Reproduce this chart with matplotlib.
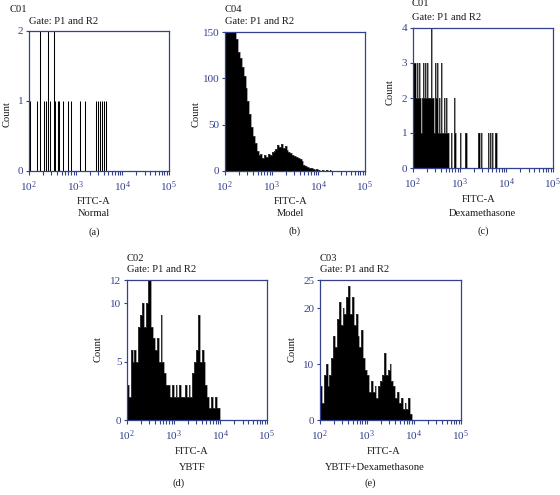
import numpy as np
import matplotlib
matplotlib.use('Agg')
import matplotlib.pyplot as plt
from matplotlib.ticker import LogLocator, LogFormatterMathtext, FixedLocator, NullFormatter

plt.rcParams['font.family'] = ['Liberation Serif', 'DejaVu Serif']
plt.rcParams['mathtext.fontset'] = 'stix'

# ---------------- data ----------------
# (a) Normal: sparse events, log10(FITC-A) and counts
a_log = [2.029, 2.171, 2.243, 2.329, 2.364, 2.414, 2.457, 2.529, 2.564, 2.614,
         2.65, 2.72, 2.843, 2.893, 3.086, 3.207, 3.429, 3.471, 3.514, 3.557, 3.6, 3.643]
a_cnt = [1, 1, 2, 1, 1, 2, 1, 2, 1, 1,
         1, 1, 1, 1, 1, 1, 1, 1, 1, 1, 1, 1]

# (b) Model: histogram, bins of 0.04 decade starting at 10^2
b_cnt = [158, 152, 160, 150, 155, 151, 142, 128, 122, 112,
         102, 90, 76, 62, 48, 38, 30, 22, 17, 18,
         14, 17, 15, 18, 17, 21, 22, 24, 28, 26,
         29, 25, 27, 23, 21, 19, 17, 16, 15, 14,
         13, 11, 7, 5, 4, 3, 3, 2, 1, 2,
         1, 0, 1, 0, 1, 0, 1]

# (c) Dexamethasone: fine bins of 0.0214 decade starting at 10^2
c_cnt = [3, 3, 3, 2, 3, 2, 3, 2, 1, 2,
         3, 2, 3, 2, 3, 2, 2, 2, 4, 2,
         2, 1, 3, 2, 3, 1, 2, 1, 3, 1,
         1, 2, 1, 2, 1, 1, 0, 0, 1, 0,
         0, 2, 1, 0, 0, 0, 0, 1, 0, 0,
         0, 0, 1, 1, 0, 0, 0, 0, 0, 0,
         0, 0, 0, 0, 0, 1, 1, 0, 1, 0,
         0, 0, 0, 0, 0, 1, 0, 1, 0, 1,
         0, 0, 1, 1]

# (d) YBTF
d_cnt = [3, 2, 6, 5, 6, 5, 8, 9, 10, 8,
         10, 12, 13, 8, 7, 6, 7, 5, 9, 5,
         4, 3, 3, 2, 3, 2, 3, 2, 3, 2,
         2, 3, 2, 3, 2, 4, 5, 6, 9, 5,
         6, 5, 3, 2, 1, 2, 1, 2, 1, 1]

# (e) YBTF+Dexamethasone
e_cnt = [6, 3, 8, 10, 6, 8, 11, 15, 13, 18,
         21, 17, 20, 19, 22, 24, 19, 22, 17, 19,
         15, 13, 16, 11, 9, 8, 5, 7, 5, 6,
         4, 6, 7, 8, 12, 8, 9, 10, 7, 6,
         4, 5, 3, 4, 2, 3, 2, 4, 1]

bin_coarse = 0.04
bin_fine = 0.0214

panels = [
    dict(code='C01', name='Normal', letter='(a)', yticks=[0, 1, 2], ymax=2),
    dict(code='C04', name='Model', letter='(b)', yticks=[0, 50, 100, 150], ymax=150),
    dict(code='C01', name='Dexamethasone', letter='(c)', yticks=[0, 1, 2, 3, 4], ymax=4),
    dict(code='C02', name='YBTF', letter='(d)', yticks=[0, 5, 10, 12], ymax=12),
    dict(code='C03', name='YBTF+Dexamethasone', letter='(e)', yticks=[0, 10, 20, 25], ymax=25),
]

# ---------------- layout (pixels) ----------------
W, H = 560, 495
BLUE = '#34418e'
TXT = '#1a1a1a'
FS = 7.6

rects = [(29, 31, 169, 171), (225, 32, 365, 171), (413, 28, 553, 168),
         (127, 280, 267, 420), (320, 280, 461, 420)]
hdr = [(10, 9, 29, 21), (225, 10, 225, 22), (412, 4, 412, 17),
       (127, 258.5, 127, 270), (320, 258.5, 320, 270)]
ylab = [(7, 114), (196, 114), (390, 92), (98, 349), (292.5, 349)]
# (x FITC-A, y FITC-A, x name, y name, x letter, y letter)
xlab = [(94, 202, 94, 214, 94, 232),
        (290.5, 202, 290.5, 214, 295, 231),
        (479, 200, 482, 214, 483, 231),
        (192, 451, 192, 467, 179, 483),
        (384, 451, 375, 468, 370, 483)]

fig = plt.figure(figsize=(W / 100, H / 100), dpi=100)


def fx(x):
    return x / W


def fy(y):
    return 1 - y / H


def hist_stairs(ax, counts, bw):
    edges = 10 ** (2 + bw * np.arange(len(counts) + 1))
    ax.stairs(counts, edges, fill=True, color='black', linewidth=0)
    ax.stairs(counts, edges, fill=False, color='#555555', linewidth=0.4)


for i, (p, r) in enumerate(zip(panels, rects)):
    x0, y0, x1, y1 = r
    ax = fig.add_axes([fx(x0), fy(y1), (x1 - x0) / W, (y1 - y0) / H])
    ax.set_xscale('log')
    ax.set_xlim(1e2, 1e5)
    ax.set_ylim(0, p['ymax'])

    if i == 0:
        ax.vlines(10 ** np.array(a_log), 0, a_cnt, color='black', linewidth=0.75)
    elif i == 1:
        hist_stairs(ax, b_cnt, bin_coarse)
    elif i == 2:
        hist_stairs(ax, c_cnt, bin_fine)
    elif i == 3:
        hist_stairs(ax, d_cnt, bin_coarse)
    else:
        hist_stairs(ax, e_cnt, bin_coarse)

    for s in ax.spines.values():
        s.set_color(BLUE)
        s.set_linewidth(0.9)
    ax.xaxis.set_major_locator(LogLocator(base=10, numticks=10))
    ax.xaxis.set_major_formatter(LogFormatterMathtext())
    ax.xaxis.set_minor_locator(LogLocator(base=10, subs=np.arange(2, 10), numticks=20))
    ax.xaxis.set_minor_formatter(NullFormatter())
    ax.yaxis.set_major_locator(FixedLocator(p['yticks']))
    ax.tick_params(axis='x', which='both', direction='out', length=3, width=0.8,
                   color=BLUE, labelcolor=BLUE, labelsize=FS + 0.6, pad=3)
    ax.tick_params(axis='y', which='both', direction='out', length=2.5, width=0.8,
                   color=BLUE, labelcolor=BLUE, labelsize=FS + 0.4, pad=1.5)
    ax.tick_params(top=False, right=False)

    hx1, hy1, hx2, hy2 = hdr[i]
    fig.text(fx(hx1), fy(hy1), p['code'], ha='left', va='center', fontsize=FS, color=TXT)
    fig.text(fx(hx2), fy(hy2), 'Gate: P1 and R2', ha='left', va='center', fontsize=FS, color=TXT)
    lx, ly = ylab[i]
    fig.text(fx(lx), fy(ly), 'Count', ha='center', va='center', rotation=90, fontsize=FS, color=TXT)
    fx1, fy1, nx, ny, lx2, ly2 = xlab[i]
    fig.text(fx(fx1), fy(fy1), 'FITC-A', ha='center', va='center', fontsize=FS, color=TXT)
    fig.text(fx(nx), fy(ny), p['name'], ha='center', va='center', fontsize=FS, color=TXT)
    fig.text(fx(lx2), fy(ly2), p['letter'], ha='center', va='center', fontsize=FS, color=TXT)

fig.savefig('out.png', dpi=100)
